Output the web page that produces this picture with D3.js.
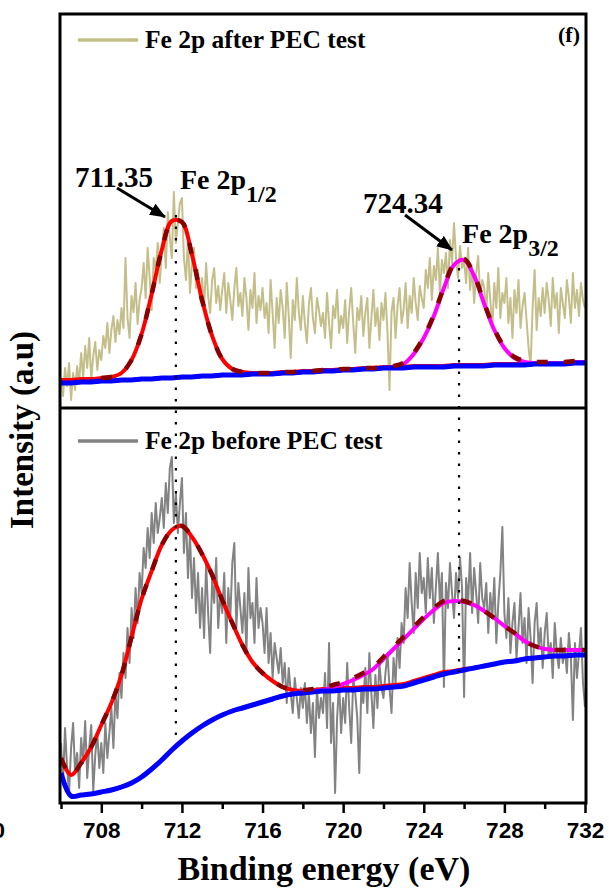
<!DOCTYPE html>
<html>
<head>
<meta charset="utf-8">
<script src="https://cdn.jsdelivr.net/npm/d3@7"></script>
<style>
    html, body { margin: 0; padding: 0; background: #fff; }
    #chart { width: 609px; height: 889px; }
    text { font-family: "Liberation Serif", "Times New Roman", serif; font-weight: bold; fill: #000; }
    .x-axis text { font-family: "Liberation Sans", Arial, sans-serif; font-weight: bold; }
</style>
</head>
<body>
<div id="chart"></div>
<script>
///// DATOS /////
//Energía de enlace (eV): espectros cada 0.1 eV, ajustes cada 0.5 eV
let energyRaw = d3.range(261).map(i => Math.round((706 + i * 0.1) * 10) / 10);
let energyFit = d3.range(53).map(i => 706 + i * 0.5);

//Fe 2p después del test PEC (panel superior), intensidad en u.a.
let afterRaw = [
    30,12,40,22,45,8,35,18,42,26,
    55,30,62,40,70,28,52,66,38,58,
    48,72,60,85,55,78,92,66,88,74,
    100,80,150,90,70,112,96,125,84,108,
    120,145,110,160,130,98,150,138,165,125,
    155,180,140,196,170,150,216,165,185,205,
    210,150,128,170,115,145,160,120,138,108,
    130,100,145,112,95,128,140,105,122,98,
    118,135,95,125,108,88,120,140,102,115,
    92,130,110,78,118,100,135,85,112,98,
    120,90,105,75,128,95,60,110,85,118,
    100,70,125,92,50,108,88,130,96,78,
    112,85,65,104,120,90,75,110,98,82,
    95,70,115,85,60,102,90,118,75,92,
    80,108,65,98,120,85,55,100,88,112,
    72,95,110,60,90,118,82,100,68,105,
    88,115,75,18,96,110,70,102,120,85,
    98,125,80,112,95,130,105,88,122,110,
    100,138,120,150,108,142,128,160,115,148,
    135,155,120,168,145,185,150,130,162,140,
    148,125,160,118,140,105,135,152,112,128,
    120,95,135,108,80,125,100,140,90,115,
    105,130,85,110,70,118,95,128,80,102,
    115,88,60,42,100,138,78,110,92,120,
    95,125,108,82,130,100,115,75,120,105,
    90,128,110,85,135,100,118,92,125,108,
    100
];
let afterBackground = [
    25,25,26,26,27,27,28,28,29,29,
    30,30,31,31,32,32,33,33,33,34,
    34,34,35,35,36,36,37,37,38,38,
    39,39,40,40,40,41,41,41,41,42,
    42,42,42,43,43,43,43,44,44,44,
    44,45,45
];
let afterPeak1 = [
    28,28,29,29,30,31,35,48,74,114,
    158,187,186,153,108,72,49,39,36,35,
    35,35,36,36,37,37,38,38,39,39,
    40,40,41,41,41,42,42,42,42,43,
    43,43,43,44,44,44,44,45,45,45,
    45,46,46
];
let afterPeak2 = [
    25,25,26,26,27,27,28,28,29,29,
    30,30,31,31,32,32,33,33,33,34,
    34,34,35,35,36,36,37,37,38,38,
    39,39,40,41,44,54,70,92,120,143,
    148,132,104,78,60,50,46,45,45,45,
    45,46,46
];

//Fe 2p antes del test PEC (panel inferior)
let beforeRaw = [
    60,20,75,35,10,55,80,30,50,15,
    65,40,82,25,55,78,12,48,70,35,
    60,30,80,45,70,95,55,110,85,130,
    105,150,125,175,140,195,165,215,180,230,
    210,255,235,275,245,290,260,300,270,285,
    305,275,320,290,335,346,280,310,270,300,
    325,250,290,225,270,205,245,190,230,175,
    215,165,240,190,150,225,200,245,175,210,
    190,230,160,215,185,240,260,175,220,195,
    170,210,150,235,185,200,160,225,175,195,
    180,150,195,140,170,125,160,145,130,155,
    120,140,100,135,110,90,125,105,85,115,
    95,120,80,110,70,100,46,115,85,105,
    90,130,75,160,60,100,10,85,120,70,
    105,80,140,95,60,125,110,85,30,115,
    100,135,90,150,110,75,128,95,140,115,
    105,130,150,115,90,145,120,165,135,180,
    160,215,185,240,200,170,230,195,250,210,
    225,190,245,205,235,180,215,250,200,230,
    116,220,195,240,210,185,230,205,245,215,
    106,225,200,250,190,235,210,180,240,205,
    195,220,170,210,185,225,160,200,230,276,
    190,165,205,150,180,200,145,175,210,160,
    185,140,195,165,120,180,200,155,175,135,
    170,190,145,160,125,180,150,135,165,140,
    155,130,170,145,83,160,125,150,175,120,
    96
];
let beforeBackground = [
    30,7,8,9,11,13,16,20,26,34,
    43,53,62,70,77,83,88,92,95,98,
    101,104,107,109,110,111,112,112,113,113,
    114,114,115,116,117,120,123,126,129,131,
    133,135,137,139,141,142,144,145,146,147,
    147,148,148
];
let beforePeak1 = [
    45,28,40,56,78,100,128,166,204,232,
    258,273,277,266,249,228,203,180,158,141,
    130,122,116,113,112,113,114,114,115,115,
    116,116,117,118,119,122,125,128,131,132,
    134,135,137,139,141,142,144,145,146,147,
    147,148,148
];
let beforePeak2 = [
    30,7,8,9,11,13,16,20,26,34,
    43,53,62,70,77,83,88,92,95,98,
    101,104,107,109,111,112,113,116,119,123,
    128,134,144,154,164,174,184,193,200,202,
    201,198,192,185,177,170,162,157,154,153,
    153,153,153
];

//Ejes y anotaciones
let xMinorTicks = [706, 710, 714, 718, 722, 726, 730];
let xMajorTicks = [708, 712, 716, 720, 724, 728, 732];
let legendLabels = ['Fe 2p after PEC test', 'Fe 2p before PEC test'];
let peakPositions = [711.7, 725.75];
let peakLabels = ['711.35', '724.34'];
let peakSubs = ['1/2', '3/2'];

///// VISUALIZACIÓN DEL GRÁFICO //////
let chartBlock = d3.select('#chart');
let margin = {top: 14, right: 23, bottom: 86, left: 60};
let width = 609 - margin.left - margin.right,
    height = 889 - margin.top - margin.bottom,
    panelHeight = 394;

let svg = chartBlock.append('svg')
    .attr('width', 609)
    .attr('height', 889);

let chart = svg.append('g')
    .attr('transform', 'translate(' + margin.left + ',' + margin.top + ')');

//Escalas
let x = d3.scaleLinear().domain([706, 732]).range([1, width - 1]);
let yTop = d3.scaleLinear().domain([0, 394]).range([panelHeight, 0]);
let yBot = d3.scaleLinear().domain([0, 395]).range([height, panelHeight]);

let defs = svg.append('defs');
defs.append('clipPath').attr('id', 'clip-0')
    .append('rect').attr('x', 0).attr('y', 0).attr('width', width).attr('height', panelHeight);
defs.append('clipPath').attr('id', 'clip-1')
    .append('rect').attr('x', 0).attr('y', panelHeight).attr('width', width).attr('height', height - panelHeight);
defs.append('marker')
    .attr('id', 'arrow')
    .attr('markerUnits', 'userSpaceOnUse')
    .attr('markerWidth', 16).attr('markerHeight', 13)
    .attr('refX', 15).attr('refY', 6.5)
    .attr('orient', 'auto')
    .append('path')
    .attr('d', 'M0,0 L16,6.5 L0,13 Z')
    .attr('fill', '#000');

let panels = [
    {raw: afterRaw, bg: afterBackground, p1: afterPeak1, p2: afterPeak2, y: yTop, color: '#c4bf8a', fitFrom: 708, legendY: 26},
    {raw: beforeRaw, bg: beforeBackground, p1: beforePeak1, p2: beforePeak2, y: yBot, color: '#838383', fitFrom: 706, legendY: 427}
];

panels.forEach(function(p, i) {
    let g = chart.append('g').attr('clip-path', 'url(#clip-' + i + ')');

    let lineRaw = d3.line()
        .x((d, j) => x(energyRaw[j]))
        .y(d => p.y(d));

    let lineFit = d3.line()
        .x((d, j) => x(energyFit[j]))
        .y(d => p.y(d))
        .curve(d3.curveCatmullRom);

    g.append('path')
        .datum(p.raw)
        .attr('fill', 'none')
        .attr('stroke', p.color)
        .attr('stroke-width', 2)
        .attr('stroke-linejoin', 'round')
        .attr('d', lineRaw);

    g.append('path').datum(p.p1)
        .attr('fill', 'none').attr('stroke', '#ff0000').attr('stroke-width', 4)
        .attr('d', lineFit);

    g.append('path').datum(p.p2)
        .attr('fill', 'none').attr('stroke', '#ff00ff').attr('stroke-width', 4)
        .attr('d', lineFit);

    g.append('path').datum(p.bg)
        .attr('fill', 'none').attr('stroke', '#0000ff').attr('stroke-width', 5)
        .attr('d', lineFit);

    //Envolvente (suma de componentes)
    let envelope = energyFit
        .map((e, j) => [e, p.p1[j] + p.p2[j] - p.bg[j]])
        .filter(d => d[0] >= p.fitFrom);

    g.append('path').datum(envelope)
        .attr('fill', 'none')
        .attr('stroke', '#880000')
        .attr('stroke-width', 4.5)
        .attr('stroke-dasharray', '11,16')
        .attr('d', d3.line().x(d => x(d[0])).y(d => p.y(d[1])).curve(d3.curveCatmullRom));

    //Leyenda
    chart.append('line')
        .attr('x1', 18).attr('x2', 78)
        .attr('y1', p.legendY).attr('y2', p.legendY)
        .attr('stroke', p.color)
        .attr('stroke-width', 3.5);

    chart.append('text')
        .attr('x', 85)
        .attr('y', p.legendY + 8)
        .style('font-size', '25.5px')
        .text(legendLabels[i]);
});

//Líneas de puntos en las posiciones de los picos
let dotTop = [193, 140], dotBottom = [60, 131];
chart.selectAll('.peak-line')
    .data(peakPositions)
    .enter()
    .append('line')
    .attr('class', 'peak-line')
    .attr('x1', d => x(d)).attr('x2', d => x(d))
    .attr('y1', (d, i) => yTop(dotTop[i]))
    .attr('y2', (d, i) => yBot(dotBottom[i]))
    .attr('stroke', '#000')
    .attr('stroke-width', 2.2)
    .attr('stroke-dasharray', '2.5,9');

//Marco
chart.append('rect')
    .attr('x', 0).attr('y', 0)
    .attr('width', width).attr('height', height)
    .attr('fill', 'none')
    .attr('stroke', '#000')
    .attr('stroke-width', 3);

chart.append('line')
    .attr('x1', 0).attr('x2', width)
    .attr('y1', panelHeight).attr('y2', panelHeight)
    .attr('stroke', '#000')
    .attr('stroke-width', 3);

//Eje X
chart.append('g')
    .attr('class', 'x-axis')
    .attr('transform', 'translate(0,' + height + ')')
    .call(d3.axisBottom(x).tickValues(xMinorTicks).tickSize(6).tickFormat(''))
    .call(g => g.select('.domain').remove())
    .call(g => g.selectAll('.tick line').attr('stroke', '#000').attr('stroke-width', 2.5));

chart.append('g')
    .attr('class', 'x-axis')
    .attr('transform', 'translate(0,' + height + ')')
    .call(d3.axisBottom(x).tickValues(xMajorTicks).tickSize(10).tickFormat(d => d))
    .call(g => g.select('.domain').remove())
    .call(g => g.selectAll('.tick line').attr('stroke', '#000').attr('stroke-width', 2.5))
    .call(g => g.selectAll('.tick text')
        .attr('y', 35)
        .attr('dy', 0)
        .attr('fill', '#000')
        .style('font-size', '22.5px'));

//Resto de una etiqueta recortada en el borde izquierdo
chart.append('text')
    .attr('x', -55).attr('y', height + 35)
    .attr('text-anchor', 'end')
    .style('font-family', '"Liberation Sans", Arial, sans-serif')
    .style('font-size', '22.5px')
    .text('0');

//Títulos de ejes
chart.append('text')
    .attr('x', 264).attr('y', 866)
    .attr('text-anchor', 'middle')
    .style('font-size', '34px')
    .text('Binding energy (eV)');

chart.append('text')
    .attr('transform', 'translate(-27,416) rotate(-90)')
    .attr('text-anchor', 'middle')
    .style('font-size', '33px')
    .text('Intensity (a.u)');

chart.append('text')
    .attr('x', 520).attr('y', 28)
    .attr('text-anchor', 'end')
    .style('font-size', '22px')
    .text('(f)');

//Anotaciones de los picos
let valuePos = [[706.69, 221], [720.99, 195]];
let namePos = [[711.9, 219], [725.9, 165]];
let arrowFrom = [[708.78, 220], [723.07, 193]];
let arrowTo = [[711.16, 191], [725.4, 158]];

peakLabels.forEach(function(label, i) {
    chart.append('line')
        .attr('x1', x(arrowFrom[i][0])).attr('y1', yTop(arrowFrom[i][1]))
        .attr('x2', x(arrowTo[i][0])).attr('y2', yTop(arrowTo[i][1]))
        .attr('stroke', '#000')
        .attr('stroke-width', 3)
        .attr('marker-end', 'url(#arrow)');

    chart.append('text')
        .attr('x', x(valuePos[i][0]))
        .attr('y', yTop(valuePos[i][1]))
        .style('font-size', '29px')
        .text(label);

    let name = chart.append('text')
        .attr('x', x(namePos[i][0]))
        .attr('y', yTop(namePos[i][1]))
        .style('font-size', '28px');
    name.append('tspan').text('Fe 2p');
    name.append('tspan')
        .attr('dy', 13)
        .style('font-size', '24px')
        .text(peakSubs[i]);
});
</script>
</body>
</html>
